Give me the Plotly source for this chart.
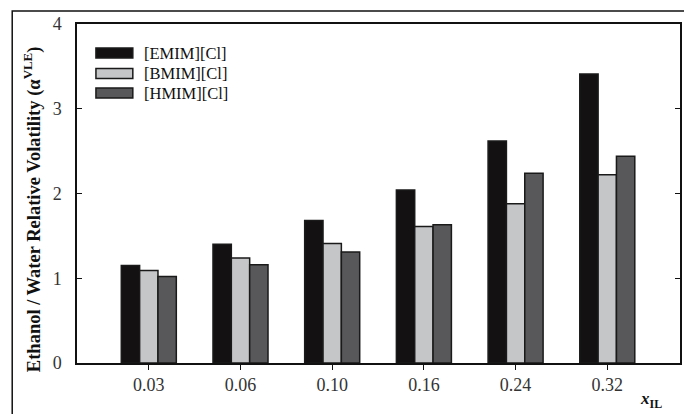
import plotly.graph_objects as go

categories = ["0.03", "0.06", "0.10", "0.16", "0.24", "0.32"]
emim = [1.15, 1.40, 1.68, 2.04, 2.62, 3.41]
bmim = [1.09, 1.24, 1.41, 1.61, 1.88, 2.22]
hmim = [1.02, 1.16, 1.31, 1.63, 2.24, 2.44]
series_names = ["[EMIM][Cl]", "[BMIM][Cl]", "[HMIM][Cl]"]
series_colors = ["#141112", "#c5c6c8", "#58585a"]
y_ticks = [0, 1, 2, 3, 4]

W, H = 684, 414
L, R, T, B = 77, 2, 24, 51
PW, PH = W - L - R, H - T - B


def px(x):
    return (x - L) / PW


def py(y):
    return (H - B - y) / PH


fig = go.Figure()
for name, vals, col in zip(series_names, [emim, bmim, hmim], series_colors):
    fig.add_trace(go.Bar(
        x=categories, y=vals, name=name, showlegend=False,
        marker=dict(color=col, line=dict(color="#1a1a1a", width=1.5)),
    ))

font_family = "Liberation Serif"
shapes = []
annotations = []
# outer frame
shapes.append(dict(type="rect", xref="paper", yref="paper",
                   x0=px(12), x1=px(700), y0=py(430), y1=py(11),
                   line=dict(color="#111", width=1.5), fillcolor="rgba(0,0,0,0)", layer="below"))
# custom legend
rows = [53, 73.5, 93]
for name, col, ry in zip(series_names, series_colors, rows):
    shapes.append(dict(type="rect", xref="paper", yref="paper",
                       x0=px(96), x1=px(133), y0=py(ry + 5), y1=py(ry - 5),
                       fillcolor=col, line=dict(color="#1a1a1a", width=1.5)))
    annotations.append(dict(xref="paper", yref="paper", x=px(142), y=py(ry),
                            xanchor="left", yanchor="middle", showarrow=False,
                            text=name, font=dict(family=font_family, size=16.5, color="#111")))

annotations.append(dict(xref="paper", yref="paper", x=px(32), y=py(209),
                        xanchor="center", yanchor="middle", showarrow=False, textangle=-90,
                        text="<b>Ethanol / Water Relative Volatility (α<sup>VLE</sup>)</b>",
                        font=dict(family=font_family, size=18.5, color="#111")))
annotations.append(dict(xref="paper", yref="paper", x=px(653), y=py(400),
                        xanchor="center", yanchor="middle", showarrow=False,
                        text="<b><i>x</i></b><sub><b>IL</b></sub>",
                        font=dict(family=font_family, size=17, color="#111")))

fig.update_layout(
    width=W, height=H,
    margin=dict(l=L, r=R, t=T, b=B, pad=0),
    paper_bgcolor="white", plot_bgcolor="white",
    barmode="group", bargap=0.4, bargroupgap=0,
    font=dict(family=font_family, size=18, color="#222"),
    shapes=shapes, annotations=annotations,
    xaxis=dict(type="category", range=[-0.783, 5.793], showgrid=False,
               showline=True, linecolor="#111", linewidth=1.5, mirror=True,
               ticks="outside", ticklen=5, tickcolor="#111", tickwidth=1.2,
               tickfont=dict(family=font_family, size=18, color="#333")),
    yaxis=dict(range=[0, 4], tickvals=y_ticks, showgrid=False, zeroline=False,
               showline=True, linecolor="#111", linewidth=1.5, mirror="ticks",
               ticks="inside", ticklen=5, tickcolor="#111", tickwidth=1.2,
               ticklabelstandoff=10,
               tickfont=dict(family=font_family, size=18, color="#333")),
)

fig.write_html("out.html")
